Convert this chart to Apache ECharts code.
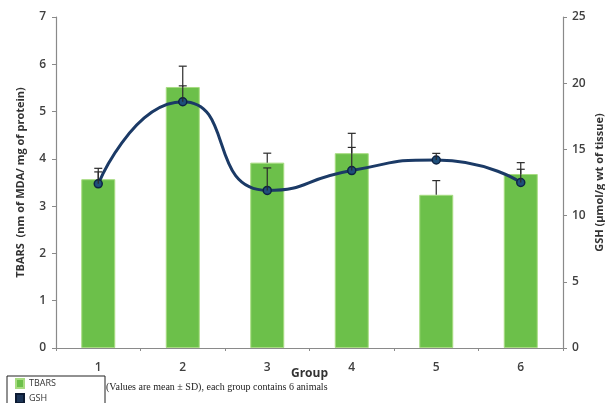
<!DOCTYPE html>
<html>
<head>
<meta charset="utf-8">
<script src="https://cdn.jsdelivr.net/npm/echarts@6/dist/echarts.min.js"></script>
<style>
  html, body { margin: 0; padding: 0; background: #fff; }
  #chart { width: 605px; height: 403px; }
</style>
</head>
<body>
<div id="chart"></div>
<script>
// Groups 1..6, TBARS (bars, left axis) and GSH (smooth line, right axis), mean ± SD
const groups = ['1', '2', '3', '4', '5', '6'];
const tbars = [3.57, 5.52, 3.92, 4.12, 3.24, 3.68];
const tbarsSD = [0.23, 0.44, 0.20, 0.42, 0.30, 0.24];
const gsh = [12.4, 18.6, 11.9, 13.4, 14.2, 12.5];
const gshSD = [0.9, 1.2, 1.7, 1.75, 0.5, 1.0];
const leftTicks = [0, 1, 2, 3, 4, 5, 6, 7];
const rightTicks = [0, 5, 10, 15, 20, 25];

const chart = echarts.init(document.getElementById('chart'));

// Upward-only error bar with a cap, drawn from mean to mean + SD
function errorBar(yAxisIndex) {
  return function (params, api) {
    const x = api.value(0);
    const p0 = api.coord([x, api.value(1)], yAxisIndex);
    const p1 = api.coord([x, api.value(2)], yAxisIndex);
    const half = 4;
    const style = { stroke: '#2b2b2b', lineWidth: 1.2 };
    return {
      type: 'group',
      children: [
        { type: 'line', shape: { x1: p0[0], y1: p0[1], x2: p1[0], y2: p1[1] }, style },
        { type: 'line', shape: { x1: p1[0] - half, y1: p1[1], x2: p1[0] + half, y2: p1[1] }, style }
      ]
    };
  };
}

const labelFont = { fontFamily: 'Open Sans', fontSize: 12, fontWeight: 600, color: '#404040' };
const axisLine = { show: true, lineStyle: { color: '#8a8a8a', width: 1.2 } };

chart.setOption({
  animation: false,
  grid: { left: 56, right: 42, top: 17, bottom: 55, outerBoundsMode: 'none', containLabel: false },
  legend: {
    orient: 'vertical',
    left: 15,
    top: 378,
    height: 60,
    itemWidth: 8,
    itemHeight: 9,
    itemGap: 4,
    padding: 0,
    textStyle: { fontFamily: 'Open Sans', fontSize: 9, color: '#333' },
    data: [
      { name: 'TBARS', icon: 'rect' },
      { name: 'GSH', icon: 'rect', itemStyle: { color: '#1d3557', borderColor: '#0d1b33' } }
    ]
  },
  graphic: [
    {
      type: 'rect',
      shape: { x: 7, y: 376, width: 98, height: 50 },
      style: { fill: 'none', stroke: '#222', lineWidth: 1 }
    },
    {
      type: 'text',
      left: 106,
      top: 382,
      style: {
        text: '(Values are mean \u00b1 SD), each group contains 6 animals',
        font: '10px "Liberation Serif", serif',
        fill: '#222'
      }
    }
  ],
  xAxis: {
    type: 'category',
    data: groups,
    name: 'Group',
    nameLocation: 'middle',
    nameGap: 20,
    nameMoveOverlap: false,
    nameTextStyle: { fontFamily: 'Open Sans', fontSize: 12, fontWeight: 700, color: '#333' },
    axisLine,
    axisTick: { show: true, length: 3, lineStyle: { color: '#8a8a8a' } },
    axisLabel: Object.assign({ margin: 14 }, labelFont)
  },
  yAxis: [
    {
      type: 'value',
      min: 0,
      max: 7,
      interval: 1,
      name: 'TBARS  (nm of MDA/ mg of protein)',
      nameLocation: 'middle',
      nameRotate: 90,
      nameGap: 30,
      nameMoveOverlap: false,
      nameTextStyle: { fontFamily: 'Open Sans', fontSize: 11, fontWeight: 700, color: '#333' },
      axisLine,
      axisTick: { show: true, length: 4, lineStyle: { color: '#8a8a8a' } },
      splitLine: { show: false },
      axisLabel: Object.assign({ margin: 10, customValues: leftTicks }, labelFont)
    },
    {
      type: 'value',
      min: 0,
      max: 25,
      interval: 5,
      position: 'right',
      name: 'GSH (\u00b5mol/g wt of tissue)',
      nameLocation: 'middle',
      nameRotate: 90,
      nameGap: 31,
      nameMoveOverlap: false,
      nameTextStyle: { fontFamily: 'Open Sans', fontSize: 11, fontWeight: 700, color: '#333' },
      axisLine,
      axisTick: { show: true, length: 4, lineStyle: { color: '#8a8a8a' } },
      splitLine: { show: false },
      axisLabel: Object.assign({ margin: 9, customValues: rightTicks }, labelFont)
    }
  ],
  series: [
    {
      name: 'TBARS',
      type: 'bar',
      data: tbars,
      barWidth: 34,
      yAxisIndex: 0,
      itemStyle: { color: '#6cc04a', borderColor: '#a8dc82', borderWidth: 1 },
      z: 1
    },
    {
      name: 'TBARS SD',
      type: 'custom',
      yAxisIndex: 0,
      renderItem: errorBar(0),
      data: tbars.map((v, i) => [i, v, v + tbarsSD[i]]),
      z: 3
    },
    {
      name: 'GSH',
      type: 'line',
      data: gsh,
      yAxisIndex: 1,
      smooth: 0.6,
      symbol: 'circle',
      symbolSize: 8,
      lineStyle: { color: '#1b3a66', width: 3 },
      itemStyle: { color: '#1f4f7a', borderColor: '#0e2444', borderWidth: 1.5 },
      z: 4
    },
    {
      name: 'GSH SD',
      type: 'custom',
      yAxisIndex: 1,
      renderItem: errorBar(1),
      data: gsh.map((v, i) => [i, v, v + gshSD[i]]),
      z: 5
    }
  ]
});
</script>
</body>
</html>
